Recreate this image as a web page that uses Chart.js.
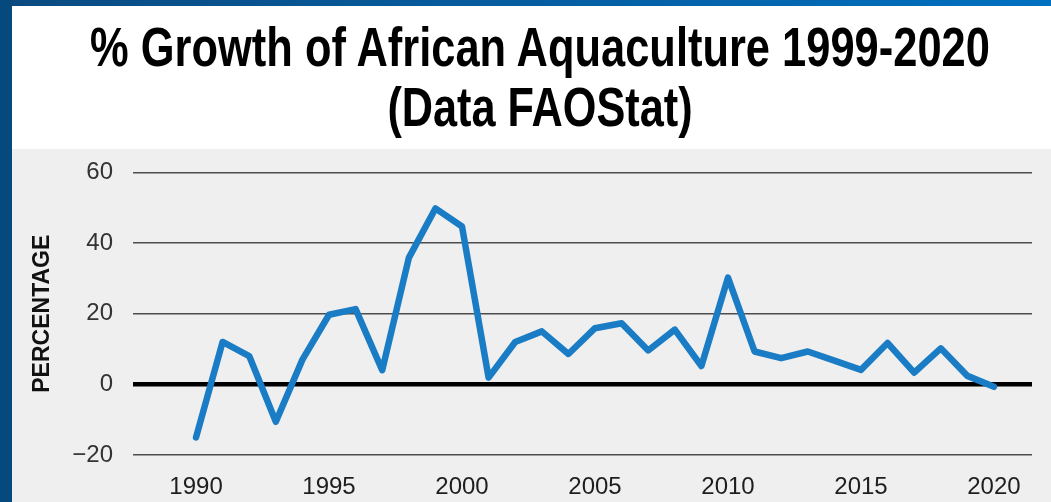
<!DOCTYPE html>
<html>
<head>
<meta charset="utf-8">
<script src="https://cdn.jsdelivr.net/npm/chart.js@4"></script>
<style>
  html, body { margin: 0; padding: 0; }
  body { width: 1051px; height: 502px; position: relative; overflow: hidden; background: #fff; }
  #topbar { position: absolute; left: 0; top: 0; width: 1051px; height: 6px; background: linear-gradient(to right, #0b4a80, #0070c0); }
  #leftbar { position: absolute; left: 0; top: 0; width: 12px; height: 502px; background: #064a7d; }
  #header { position: absolute; left: 12px; top: 6px; width: 1039px; height: 143px; background: #fff; }
  .tline { position: absolute; left: 528px; white-space: nowrap; transform-origin: center;
           font: bold 56px 'Liberation Sans', Arial, sans-serif; color: #000; line-height: 1; }
  #box { position: absolute; left: 12px; top: 149px; width: 1039px; height: 353px; background: #efefef; }
  #growthChart { position: absolute; left: 12px; top: 138px; }
</style>
</head>
<body>
<div id="topbar"></div>
<div id="leftbar"></div>
<div id="header">
  <div class="tline" id="t1" style="top:13px">% Growth of African Aquaculture 1999-2020</div>
  <div class="tline" id="t2" style="top:73px">(Data FAOStat)</div>
</div>
<div id="box"></div>
<canvas id="growthChart" width="1039" height="364"></canvas>
<script>
// squeeze the title lines to the width they have in the picture
[['t1', 900], ['t2', 305]].forEach(function (t) {
  const el = document.getElementById(t[0]);
  el.style.transform = 'translateX(-50%) scaleX(' + (t[1] / el.offsetWidth) + ')';
});

const years = [1990, 1991, 1992, 1993, 1994, 1995, 1996, 1997, 1998, 1999, 2000,
  2001, 2002, 2003, 2004, 2005, 2006, 2007, 2008, 2009, 2010,
  2011, 2012, 2013, 2014, 2015, 2016, 2017, 2018, 2019, 2020];
const growth = [-15, 12, 8, -10.6, 7, 19.7, 21.3, 4, 35.8, 49.8, 44.7,
  1.9, 12, 15, 8.6, 15.9, 17.3, 9.6, 15.5, 5.2, 30.2,
  9.3, 7.4, 9.3, 6.7, 4.1, 11.7, 3.3, 10.2, 2.4, -0.7];
const yTicks = [-20, 0, 20, 40, 60];
const xTicks = [1990, 1995, 2000, 2005, 2010, 2015, 2020];

const tickFont = "'Liberation Sans Narrow', 'Liberation Sans', sans-serif";

const ctx = document.getElementById('growthChart').getContext('2d');
const growthChart = new Chart(ctx, {
  type: 'line',
  data: {
    datasets: [{
      label: '% growth',
      data: years.map(function (y, i) { return { x: y, y: growth[i] }; }),
      borderColor: '#1a7cc4',
      borderWidth: 6.5,
      borderJoinStyle: 'round',
      borderCapStyle: 'round',
      pointRadius: 0,
      tension: 0,
      fill: false
    }]
  },
  options: {
    responsive: false,
    animation: false,
    layout: { padding: { left: 0, right: 19, top: 0, bottom: 0 } },
    plugins: {
      legend: { display: false },
      tooltip: { enabled: false }
    },
    scales: {
      x: {
        type: 'linear',
        min: 1987.63,
        max: 2021.43,
        afterFit: function (s) { s.height = 47; },
        afterBuildTicks: function (s) { s.ticks = xTicks.map(function (v) { return { value: v }; }); },
        grid: { display: false, drawTicks: false },
        border: { display: false },
        ticks: {
          padding: 18,
          color: '#1e1e1e',
          font: { family: tickFont, size: 24 },
          callback: function (v) { return String(v); }
        }
      },
      y: {
        min: -20,
        max: 60,
        afterFit: function (s) { s.width = 121; },
        afterBuildTicks: function (s) { s.ticks = yTicks.map(function (v) { return { value: v }; }); },
        grid: {
          drawTicks: false,
          color: function (c) { return c.tick && c.tick.value === 0 ? '#000' : '#4d4d4d'; },
          lineWidth: function (c) { return c.tick && c.tick.value === 0 ? 4.5 : 1.5; }
        },
        border: { display: false },
        ticks: {
          padding: 20,
          color: '#333',
          font: { family: tickFont, size: 24 },
          callback: function (v) { return v < 0 ? '\u2212' + Math.abs(v) : String(v); }
        },
        title: {
          display: true,
          text: 'PERCENTAGE',
          color: '#111',
          padding: { top: 19, bottom: 0 },
          font: { family: tickFont, size: 23, weight: 'bold', lineHeight: 1 }
        }
      }
    }
  }
});
</script>
</body>
</html>
